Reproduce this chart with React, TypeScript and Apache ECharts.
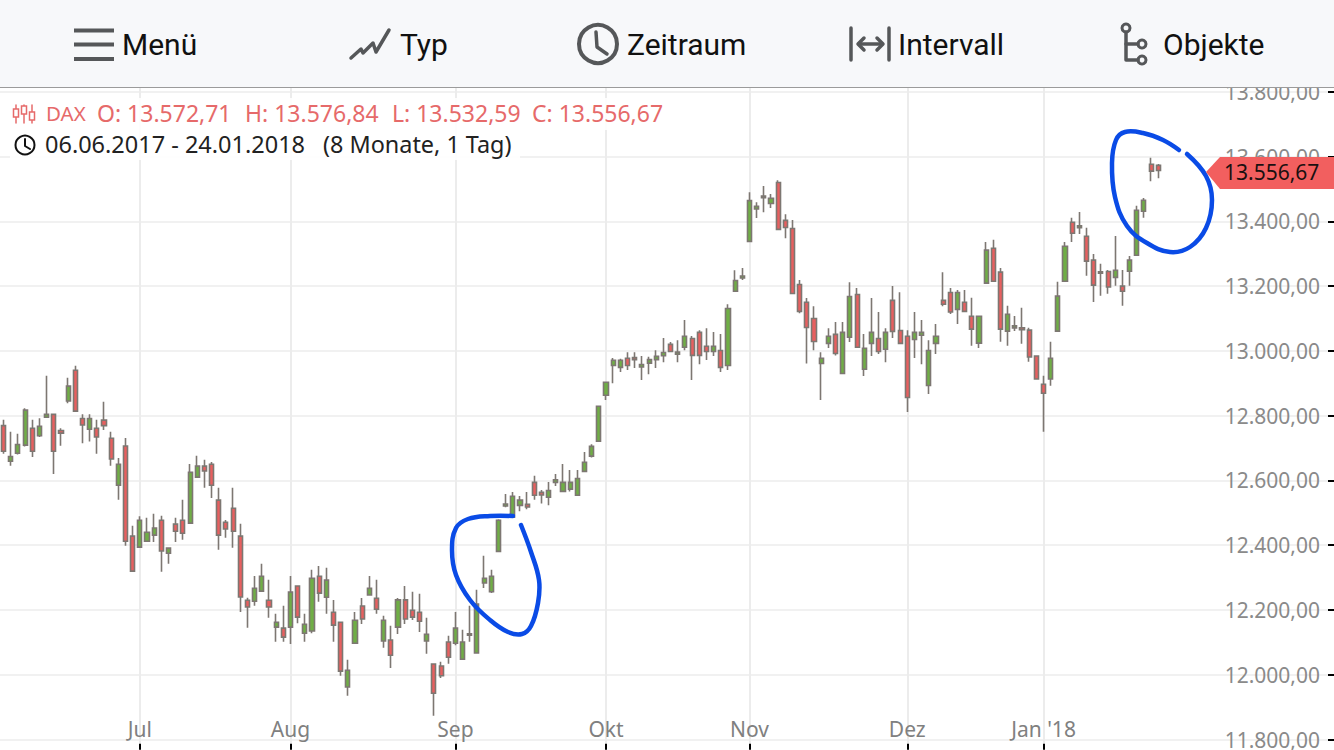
import React, { useEffect, useRef } from "react";
import * as echarts from "echarts";

// Trading days shown, by month (day of month)
const juneDays = [6,7,8,9,12,13,14,15,16,19,20,21,22,23,26,27,28,29,30];
const julyDays = [3,4,5,6,7,10,11,12,13,14,17,18,19,20,21,24,25,26,27,28,31];
const augustDays = [1,2,3,4,7,8,9,10,11,14,15,16,17,18,21,22,23,24,25,28,29,30,31];
const septemberDays = [1,4,5,6,7,8,11,12,13,14,15,18,19,20,21,22,25,26,27,28,29];
const octoberDays = [2,4,5,6,9,10,11,12,13,16,17,18,19,20,23,24,25,26,27,30];
const novemberDays = [1,2,3,6,7,8,9,10,13,14,15,16,17,20,21,22,23,24,27,28,29,30];
const decemberDays = [1,4,5,6,7,8,11,12,13,14,15,18,19,20,21,22,27,28,29];
const januaryDays = [2,3,4,5,8,9,10,11,12,15,16,17,18,19,22,23,24];
const monthLabels = ["Jun", "Jul", "Aug", "Sep", "Okt", "Nov", "Dez", "Jan '18"];
const monthDays = [juneDays, julyDays, augustDays, septemberDays, octoberDays, novemberDays, decemberDays, januaryDays];

const opens = [
  12769,12659,12684,12709,12761,12738,12795,12804,12754,12845,
  12940,12791,12758,12761,12786,12730,12585,12706,12428,12394,
  12412,12431,12477,12375,12465,12477,12468,12610,12644,12650,
  12539,12471,12514,12428,12230,12227,12258,12230,12147,12144,
  12147,12274,12128,12135,12304,12239,12193,12162,11962,12097,
  12212,12246,12236,12104,12107,12147,12231,12199,12193,12104,
  12033,12027,12101,12097,12048,12122,12067,12283,12256,12381,
  12521,12486,12523,12526,12594,12563,12548,12594,12566,12573,
  12554,12628,12675,12721,12863,12955,12949,12977,12979,12950,
  12962,12973,12985,13020,12990,13011,13038,13057,13014,12998,
  13001,12955,13184,13225,13338,13438,13473,13455,13520,13403,
  13378,13205,13150,13100,12961,13023,13051,12930,13042,13174,
  12943,13023,13038,13005,13156,13063,13045,13035,13048,12893,
  13023,13156,13180,13128,13150,13107,13024,13209,13317,13243,
  13061,13071,13071,13064,12984,12897,12913,13061,13215,13397,
  13380,13354,13280,13244,13245,13227,13200,13246,13295,13431,
  13576,13572.71,
];
const closes = [
  12690,12674,12711,12817,12690,12767,12804,12690,12746,12891,
  12814,12771,12791,12734,12769,12666,12650,12412,12320,12477,
  12440,12453,12382,12391,12443,12437,12625,12644,12629,12585,
  12431,12450,12443,12240,12209,12267,12304,12209,12162,12116,
  12255,12178,12156,12298,12252,12292,12153,12011,12014,12168,
  12172,12267,12202,12168,12060,12231,12172,12178,12165,12125,
  11943,11997,12054,12144,12101,12126,12218,12298,12304,12477,
  12527,12551,12539,12518,12554,12555,12569,12602,12594,12594,
  12606,12656,12705,12829,12903,12971,12971,12955,12973,12958,
  12973,12983,12995,12998,12996,13045,12986,12986,12998,13014,
  12949,13131,13217,13231,13464,13446,13478,13471,13375,13381,
  13177,13122,13072,13029,12977,13045,12992,13057,13168,13011,
  13008,13057,12998,13057,13060,13023,12856,13057,13057,13001,
  13045,13144,13120,13180,13122,13067,13107,13311,13215,13067,
  13113,13077,13065,12981,12913,12869,12977,13169,13323,13363,
  13386,13277,13203,13240,13197,13249,13184,13280,13434,13465,
  13555,13556.67,
];
const lows = [
  12682,12645,12680,12705,12672,12734,12795,12620,12707,12838,
  12814,12715,12720,12682,12756,12645,12540,12398,12320,12394,
  12412,12410,12318,12343,12410,12417,12468,12610,12577,12546,
  12386,12423,12392,12194,12145,12213,12258,12176,12102,12102,
  12095,12159,12102,12128,12225,12188,12102,11997,11935,12097,
  12157,12246,12188,12083,12021,12126,12157,12169,12132,12065,
  11873,11990,12034,12091,12048,12102,12067,12268,12252,12381,
  12517,12486,12505,12511,12540,12529,12523,12583,12566,12566,
  12554,12628,12671,12721,12848,12900,12935,12941,12947,12910,
  12928,12947,12965,12998,12965,13002,12910,12959,12972,12984,
  12935,12941,13184,13219,13338,13410,13428,13441,13375,13348,
  13177,13116,12961,13002,12848,13009,12986,12930,13027,13011,
  12922,12984,12990,12965,13040,13023,12811,12978,12959,12867,
  12990,13138,13114,13083,13122,13016,13009,13209,13215,13028,
  13016,13061,13022,12966,12913,12750,12892,13061,13215,13336,
  13361,13232,13151,13170,13176,13201,13139,13201,13295,13411,
  13524,13532.59,
];
const highs = [
  12787,12750,12744,12823,12787,12792,12923,12804,12761,12917,
  12954,12804,12804,12787,12843,12750,12669,12731,12460,12489,
  12485,12497,12491,12391,12485,12540,12651,12676,12664,12657,
  12577,12478,12577,12466,12238,12305,12343,12293,12188,12213,
  12305,12275,12188,12324,12336,12330,12231,12163,12046,12194,
  12237,12305,12293,12182,12151,12237,12274,12256,12250,12176,
  12034,12040,12120,12194,12139,12213,12262,12367,12324,12480,
  12558,12564,12552,12564,12614,12570,12595,12620,12651,12632,
  12632,12688,12712,12830,12904,12978,12976,12996,12996,12984,
  12982,13002,13040,13027,13033,13095,13046,13064,13070,13058,
  13052,13144,13249,13256,13490,13459,13509,13484,13527,13422,
  13404,13219,13163,13138,12996,13070,13089,13089,13212,13194,
  13052,13163,13120,13070,13200,13181,13064,13120,13095,13033,
  13083,13243,13194,13188,13188,13164,13108,13336,13343,13256,
  13139,13108,13133,13071,12985,12923,13028,13213,13336,13411,
  13429,13380,13299,13269,13250,13355,13250,13293,13448,13472,
  13596,13576.84,
];
const priceTicks = [11800,12000,12200,12400,12600,12800,13000,13200,13400,13600,13800];
const emptyBands = 24; // free room right of the last candle

const menuLabels = ["Menü", "Typ", "Zeitraum", "Intervall", "Objekte"];
const quoteText = ["DAX", "O: 13.572,71", "H: 13.576,84", "L: 13.532,59", "C: 13.556,67"];
const rangeText = ["06.06.2017 - 24.01.2018", "(8 Monate, 1 Tag)"];
const lastPriceText = "13.556,67";

const GREY_ICON = "#555759";
const QUOTE_RED = "#e66a6a";

export default function App() {
  const ref = useRef<HTMLDivElement>(null);
  useEffect(() => {
    document.body.style.margin = "0";
    const chart = echarts.init(ref.current!, null, { renderer: "svg" });

    const categories: string[] = [];
    const tickLabels: Record<number, string> = {};
    monthDays.forEach((days, m) => {
      days.forEach((d, i) => {
        if (i === 0 && m > 0) tickLabels[categories.length] = monthLabels[m];
        categories.push(monthLabels[m] + " " + d);
      });
    });
    for (let i = 0; i < emptyBands; i++) categories.push("+" + i);
    const isMonthStart = (index: number) => tickLabels[index] !== undefined;

    const candles = opens.map((o, i) => [o, closes[i], lows[i], highs[i]]);
    const deNumber = (v: number) =>
      v.toFixed(2).replace(".", ",").replace(/\B(?=(\d{3})+(?!\d))(?=.*,)/g, ".");

    const Z = 50;
    const line = (pts: number[][], stroke = GREY_ICON, lineWidth = 3.5, smooth = 0, z = Z + 2) => ({
      type: "polyline", z, silent: true,
      shape: { points: pts, smooth },
      style: { fill: "none", stroke, lineWidth, lineCap: "round", lineJoin: "round" },
    });
    const label = (x: number, y: number, text: string, size: number, fill: string, family = "Roboto", z = Z + 2) => ({
      type: "text", x, y, z, silent: true,
      style: { text, fontSize: size, fontFamily: family, fill, verticalAlign: "middle", align: "left" },
    });
    const circle = (cx: number, cy: number, r: number, stroke: string, lineWidth: number, fill = "none") => ({
      type: "circle", z: Z + 2, silent: true, shape: { cx, cy, r },
      style: { fill, stroke, lineWidth },
    });
    const rect = (x: number, y: number, width: number, height: number, fill: string, z = Z, opacity = 1) => ({
      type: "rect", z, silent: true, shape: { x, y, width, height }, style: { fill, opacity },
    });

    const graphics: any[] = [
      // header box
      rect(0, 98, 668, 32, "#ffffff", Z, 0.88),
      rect(10, 130, 510, 30, "#ffffff", Z, 0.88),
      // toolbar
      rect(0, 0, 1334, 87, "#f7f8fa", Z + 1),
      rect(0, 87, 1334, 1, "#9b9b9b", Z + 1),
      rect(74, 28.5, 40, 4, GREY_ICON, Z + 2),
      rect(74, 42.5, 40, 4, GREY_ICON, Z + 2),
      rect(74, 57, 40, 4, GREY_ICON, Z + 2),
      label(122, 44, menuLabels[0], 30, "#111"),
      line([[351, 58], [361, 49], [363, 53], [373, 43], [376, 52], [389, 30]]),
      label(400, 44, menuLabels[1], 30, "#111"),
      circle(598, 44, 19, GREY_ICON, 4),
      line([[596, 32], [597, 47], [607, 54]]),
      label(627, 44, menuLabels[2], 30, "#111"),
      line([[851, 28], [851, 60]]),
      line([[889, 28], [889, 60]]),
      line([[859, 44], [882, 44]]),
      line([[864, 38], [858, 44], [864, 50]]),
      line([[877, 38], [883, 44], [877, 50]]),
      label(898, 44, menuLabels[3], 30, "#111"),
      line([[1126, 32], [1126, 60], [1138, 60]]),
      line([[1126, 44], [1138, 44]]),
      circle(1126, 28, 4, GREY_ICON, 3),
      circle(1142, 44, 4, GREY_ICON, 3),
      circle(1142, 60, 4, GREY_ICON, 3),
      label(1163, 44, menuLabels[4], 30, "#111"),
      // quote line icon
      line([[16, 105], [16, 123]], QUOTE_RED, 1.5),
      line([[24, 105], [24, 123]], QUOTE_RED, 1.5),
      line([[32, 105], [32, 123]], QUOTE_RED, 1.5),
      { type: "rect", z: Z + 2, silent: true, shape: { x: 13.5, y: 109, width: 5, height: 8 }, style: { fill: "#fff", stroke: QUOTE_RED, lineWidth: 1.5 } },
      { type: "rect", z: Z + 2, silent: true, shape: { x: 21.5, y: 106, width: 5, height: 8 }, style: { fill: "#fff", stroke: QUOTE_RED, lineWidth: 1.5 } },
      { type: "rect", z: Z + 2, silent: true, shape: { x: 29.5, y: 112, width: 5, height: 8 }, style: { fill: "#fff", stroke: QUOTE_RED, lineWidth: 1.5 } },
      label(46, 113, quoteText[0], 20.5, QUOTE_RED, "Noto Sans"),
      label(97, 113, quoteText[1], 23, QUOTE_RED, "Noto Sans"),
      label(245, 113, quoteText[2], 23, QUOTE_RED, "Noto Sans"),
      label(392, 113, quoteText[3], 23, QUOTE_RED, "Noto Sans"),
      label(532, 113, quoteText[4], 23, QUOTE_RED, "Noto Sans"),
      // range line
      circle(25, 145, 9.5, "#111", 2),
      line([[25, 139], [25, 146], [30, 149]], "#111", 2),
      label(45, 144, rangeText[0], 23.5, "#222", "Noto Sans"),
      label(323, 144, rangeText[1], 23.4, "#222", "Noto Sans"),
      // price tag
      { type: "polygon", z: Z, silent: true,
        shape: { points: [[1206, 172], [1220, 157], [1334, 157], [1334, 189], [1220, 189]] },
        style: { fill: "#f25f5f" } },
      label(1224, 172, lastPriceText, 21, "#1a1010", "Noto Sans", Z + 1),
      // freehand circles
      line([[513, 516], [490, 516], [468, 519], [456, 528], [452, 550], [456, 575], [470, 600], [490, 620], [508, 632], [522, 634], [531, 626], [538, 603], [539, 580], [531, 552], [521, 525]], "#0a4be6", 4.5, 0.4, Z - 1),
      line([[1179, 150], [1163, 140], [1143, 133], [1125, 132], [1116, 140], [1112, 163], [1115, 197], [1127, 226], [1147, 243], [1170, 252], [1190, 247], [1206, 228], [1212, 200], [1206, 176], [1187, 154]], "#0a4be6", 4.5, 0.4, Z - 1),
    ];

    chart.setOption({
      animation: false,
      backgroundColor: "#ffffff",
      grid: { left: -0.585, right: 0, top: 88, bottom: 0, containLabel: false },
      xAxis: {
        type: "category",
        data: categories,
        boundaryGap: true,
        axisLine: { show: false },
        axisTick: {
          show: true, inside: true, length: 6, alignWithLabel: true,
          interval: (i: number) => isMonthStart(i),
          lineStyle: { color: "#000", width: 2 },
        },
        axisLabel: {
          show: true, inside: true, margin: 10, fontSize: 21, fontFamily: "Noto Sans", color: "#808080",
          interval: (i: number) => isMonthStart(i),
          formatter: (_: string, i: number) => tickLabels[i] ?? "",
        },
        splitLine: {
          show: true, alignWithLabel: true,
          interval: (i: number) => isMonthStart(i),
          lineStyle: { color: "#ececec", width: 2 },
        },
      },
      yAxis: {
        type: "value",
        position: "right",
        min: 11768.5,
        max: 13811.6,
        axisLine: { show: false },
        axisTick: {
          show: true, inside: true, length: 6,
          customValues: priceTicks,
          lineStyle: { color: "#000", width: 2 },
        },
        axisLabel: {
          show: true, inside: true, margin: 14, fontSize: 21, fontFamily: "Noto Sans", color: "#8a8a8a",
          padding: [0, 0, 2, 0],
          customValues: priceTicks,
          formatter: (v: number) => deNumber(v),
        },
        splitLine: { show: true, lineStyle: { color: "#f1f1f1", width: 2 } },
      },
      series: [
        {
          type: "candlestick",
          data: candles,
          barWidth: 4.6,
          itemStyle: {
            color: "#6fae45",
            color0: "#e85f5f",
            borderColor: "#7d7772",
            borderColor0: "#7d7772",
            borderColorDoji: "#7d7772",
            borderWidth: 1.6,
          },
        },
      ],
      graphic: { elements: graphics },
    });
    return () => chart.dispose();
  }, []);
  return <div ref={ref} style={{ position: "fixed", left: 0, top: 0, width: 1334, height: 750 }} />;
}
